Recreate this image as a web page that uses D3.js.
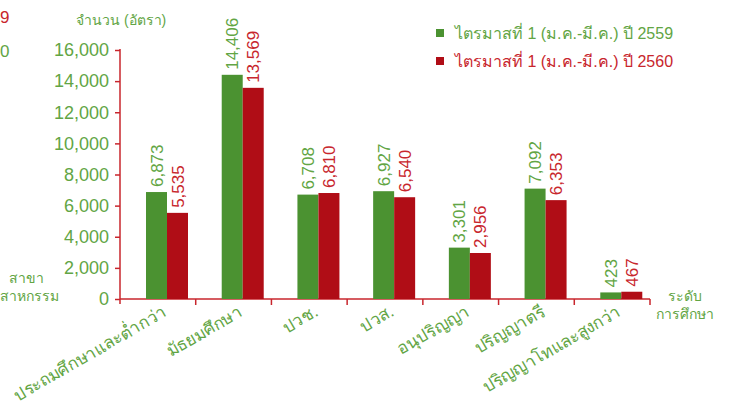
<!DOCTYPE html>
<html><head><meta charset="utf-8">
<script src="https://cdn.jsdelivr.net/npm/d3@7"></script>
<style>
body{margin:0;background:#fff;}
svg{display:block;font-family:"Liberation Sans",Tahoma,"Noto Sans",sans-serif;}
</style></head>
<body><svg id="c" width="730" height="405"></svg>
<script>
const categories = ["ประถมศึกษาและต่ำกว่า","มัธยมศึกษา","ปวช.","ปวส.","อนุปริญญา","ปริญญาตรี","ปริญญาโทและสูงกว่า"];
const series = ["ไตรมาสที่ 1 (ม.ค.-มี.ค.) ปี 2559","ไตรมาสที่ 1 (ม.ค.-มี.ค.) ปี 2560"];
const values2559 = [6873,14406,6708,6927,3301,7092,423];
const values2560 = [5535,13569,6810,6540,2956,6353,467];
const yTicks = [0,2000,4000,6000,8000,10000,12000,14000,16000];

const barColors = ["#4b9231","#b00d16"];
const textColors = ["#62a544","#c8262d"];
const svg = d3.select("#c");

const x0 = d3.scaleBand().domain(categories).range([120,650]).paddingInner(0).paddingOuter(0);
const x1 = d3.scaleBand().domain([0,1]).range([26,68]);
const y = d3.scaleLinear().domain([0,16000]).range([299,50]);

// y axis
const yAxis = svg.append("g").attr("transform","translate(120,0)")
  .call(d3.axisLeft(y).tickValues(yTicks).tickFormat(d3.format(",")).tickSize(5).tickPadding(6));
yAxis.select(".domain").attr("stroke","#c8262d").attr("stroke-width",1.5).attr("d","M0,49V304");
yAxis.selectAll(".tick line").attr("stroke","#c8262d").attr("stroke-width",1.5);
yAxis.selectAll(".tick text").attr("fill","#62a544").attr("font-size","18px");

// x axis
const xAxis = svg.append("g").attr("transform","translate(0,299)");
xAxis.append("line").attr("x1",120).attr("x2",x0.range()[1]).attr("stroke","#c8262d").attr("stroke-width",1.5);
const bounds = categories.map(c=>x0(c)+x0.bandwidth());
xAxis.selectAll("line.tk").data(bounds).join("line").attr("class","tk")
  .attr("x1",d=>d).attr("x2",d=>d).attr("y1",0).attr("y2",6).attr("stroke","#c8262d").attr("stroke-width",1.5);
xAxis.selectAll("text.cat").data(categories).join("text").attr("class","cat")
  .attr("transform",d=>`translate(${x0(d)+x0.bandwidth()/2+10},${16}) rotate(-30)`)
  .attr("text-anchor","end").attr("fill","#62a544").attr("font-size","17px").text(d=>d);

// bars
const data = categories.map((c,i)=>({c, v:[values2559[i],values2560[i]]}));
const groups = svg.append("g").selectAll("g").data(data).join("g")
  .attr("transform",d=>`translate(${x0(d.c)},0)`);
groups.selectAll("rect").data(d=>d.v.map((v,s)=>({v,s}))).join("rect")
  .attr("x",d=>x1(d.s)).attr("width",x1.bandwidth())
  .attr("y",d=>y(d.v)).attr("height",d=>y(0)-y(d.v)).attr("fill",d=>barColors[d.s]);
groups.selectAll("text").data(d=>d.v.map((v,s)=>({v,s}))).join("text")
  .attr("transform",d=>`translate(${x1(d.s)+x1.bandwidth()/2},${y(d.v)-5}) rotate(-90)`)
  .attr("dy","0.36em").attr("fill",d=>textColors[d.s]).attr("font-size","17px")
  .text(d=>d3.format(",")(d.v));

// y title
svg.append("text").attr("x",76).attr("y",25).attr("fill","#62a544").attr("font-size","14px").text("จำนวน (อัตรา)");

// legend
const lg = svg.append("g").selectAll("g").data(series).join("g")
  .attr("transform",(d,i)=>`translate(436,${33+i*28})`);
lg.append("rect").attr("x",0).attr("y",-4).attr("width",8).attr("height",8).attr("fill",(d,i)=>barColors[i]);
lg.append("text").attr("x",19).attr("dy","0.36em").attr("font-size","16px").attr("fill",(d,i)=>textColors[i]).text(d=>d);

// x title
const xt = svg.append("text").attr("fill","#62a544").attr("font-size","14px").attr("text-anchor","middle");
xt.append("tspan").attr("x",685).attr("y",301).text("ระดับ");
xt.append("tspan").attr("x",685).attr("y",319).text("การศึกษา");

// remnants at left edge
svg.append("text").attr("x",0).attr("y",23).attr("fill","#c8262d").attr("font-size","17px").text("9");
svg.append("text").attr("x",0).attr("y",57).attr("fill","#62a544").attr("font-size","17px").text("0");
svg.append("text").attr("x",9).attr("y",283).attr("fill","#62a544").attr("font-size","14px").text("สาขา");
svg.append("text").attr("x",0).attr("y",301).attr("fill","#62a544").attr("font-size","14px").text("สาหกรรม");
</script></body></html>
